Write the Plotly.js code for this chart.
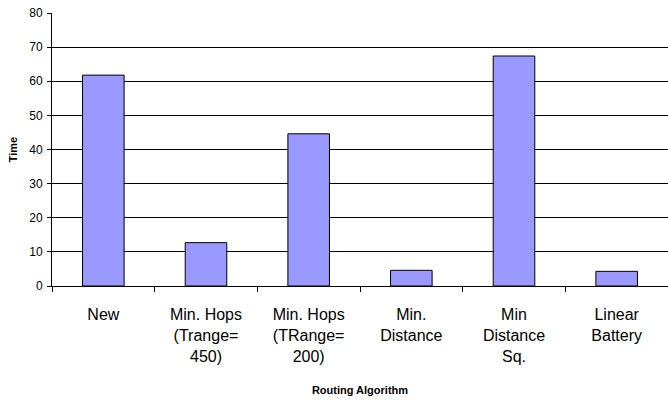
<!DOCTYPE html>
<html>
<head>
<meta charset="utf-8">
<script src="https://cdn.plot.ly/plotly-3.0.1.min.js"></script>
<style>html,body{margin:0;padding:0;background:#fff;}#chart{width:668px;height:400px;}</style>
</head>
<body>
<div id="chart"></div>
<script>
var categories = ["New", "Min. Hops<br>(Trange=<br>450)", "Min. Hops<br>(TRange=<br>200)", "Min.<br>Distance", "Min<br>Distance<br>Sq.", "Linear<br>Battery"];
var timeValues = [61.8, 12.7, 44.6, 4.6, 67.4, 4.3];
var yTickValues = [0, 10, 20, 30, 40, 50, 60, 70, 80];

var trace = {
  type: "bar",
  x: categories,
  y: timeValues,
  marker: {color: "#9999FF", line: {color: "#000000", width: 1}},
  hoverinfo: "none"
};

var layout = {
  width: 668, height: 400,
  margin: {l: 52, r: 0, t: 13, b: 114},
  paper_bgcolor: "#ffffff", plot_bgcolor: "#ffffff",
  bargap: 0.595,
  showlegend: false,
  font: {family: "Liberation Sans, Arial, sans-serif", color: "#000"},
  xaxis: {
    type: "category",
    showline: true, linecolor: "#000", linewidth: 1,
    ticks: "outside", tickson: "boundaries", ticklen: 5, tickcolor: "#000",
    tickfont: {size: 16, family: "Liberation Sans, Arial, sans-serif"},
    ticklabelstandoff: 14,
    showgrid: false,
    title: {text: "<b>Routing Algorithm</b>", font: {size: 11}, standoff: 22}
  },
  yaxis: {
    range: [0, 80],
    tickvals: yTickValues,
    showline: true, linecolor: "#000", linewidth: 1,
    ticks: "outside", ticklen: 4, tickcolor: "#000",
    tickfont: {size: 12},
    ticklabelstandoff: 2,
    showgrid: true, gridcolor: "#000", gridwidth: 1,
    zeroline: false,
    title: {text: "<b>Time</b>", font: {size: 11}, standoff: 9}
  }
};

Plotly.newPlot("chart", [trace], layout, {displayModeBar: false, staticPlot: true});
</script>
</body>
</html>
